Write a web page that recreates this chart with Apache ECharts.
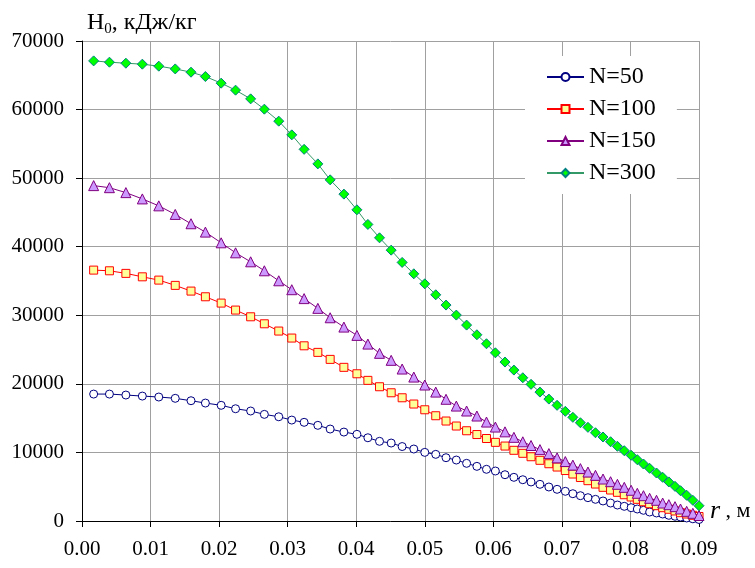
<!DOCTYPE html>
<html>
<head>
<meta charset="utf-8">
<script src="https://cdn.jsdelivr.net/npm/echarts@6/dist/echarts.min.js"></script>
<style>html,body{margin:0;padding:0;background:#fff}#c{width:755px;height:568px}</style>
</head>
<body>
<div id="c"></div>
<script>
// radius, m
const r = [0.0017,0.0040,0.0064,0.0088,0.0112,0.0136,0.0159,0.0180,0.0203,0.0224,
  0.0246,0.0266,0.0287,0.0306,0.0324,0.0344,0.0362,0.0382,0.0401,0.0417,
  0.0434,0.0451,0.0467,0.0484,0.0500,0.0516,0.0531,0.0546,0.0561,0.0576,
  0.0590,0.0603,0.0617,0.0630,0.0643,0.0655,0.0668,0.0681,0.0693,0.0705,
  0.0716,0.0727,0.0738,0.0749,0.0760,0.0771,0.0781,0.0791,0.0801,0.0810,
  0.0819,0.0828,0.0838,0.0847,0.0856,0.0865,0.0873,0.0882,0.0891,0.0900];
const H50 = [18510,18510,18370,18220,18080,17890,17540,17200,16870,16370,
  16040,15550,15200,14720,14390,13950,13410,12970,12640,12140,
  11620,11370,10860,10500,10010,9720,9230,8890,8410,7970,
  7540,7290,6750,6370,6020,5690,5350,4960,4620,4330,
  3980,3690,3400,3160,2920,2620,2330,2140,1940,1750,
  1560,1310,1170,1020,830,690,580,440,320,220];
const H100 = [36590,36490,36110,35610,35130,34360,33530,32700,31780,30760,
  29780,28760,27700,26680,25550,24590,23570,22410,21470,20510,
  19580,18700,17970,17060,16220,15350,14580,13850,13160,12610,
  12030,11470,10930,10310,9870,9370,8850,8350,7870,7360,
  6850,6340,5880,5390,4910,4520,4180,3830,3500,3160,
  2810,2520,2230,1940,1710,1460,1210,1020,830,660];
const H150 = [48910,48610,47890,46970,45960,44710,43350,42130,40570,39110,
  37800,36490,35030,33730,32430,31010,29640,28280,27070,25800,
  24450,23430,22160,20990,19830,18800,17750,16760,16040,15310,
  14430,13700,13000,12200,11550,11010,10410,9830,9210,8670,
  8150,7640,7140,6660,6120,5730,5350,4910,4480,4040,
  3690,3310,3020,2620,2380,2090,1750,1410,1120,800];
const H300 = [67100,66910,66760,66620,66330,65930,65450,64820,63850,62830,
  61560,60060,58310,56310,54200,52080,49750,47670,45380,43250,
  41300,39500,37710,36050,34590,32990,31490,30030,28570,27160,
  25850,24530,23180,22010,20890,19930,18800,17780,16870,15990,
  15120,14330,13660,12870,12250,11560,10890,10250,9580,8940,
  8310,7680,7000,6370,5700,5050,4420,3750,3020,2230];
const seriesNames = ['N=50','N=100','N=150','N=300'];
const xTicks = {min: 0, max: 0.09, step: 0.01};
const yTicks = {min: 0, max: 70000, step: 10000};

const FF = 'Liberation Serif';
const pair = (ys) => r.map((x, i) => [x, ys[i]]);

const chart = echarts.init(document.getElementById('c'), null, {renderer: 'canvas'});
chart.setOption({
  animation: false,
  backgroundColor: '#fff',
  textStyle: {fontFamily: FF},
  grid: {left: 82, right: 56, top: 41, bottom: 47},
  xAxis: {
    type: 'value', min: xTicks.min, max: xTicks.max, interval: xTicks.step,
    axisLine: {show: true, onZero: false, lineStyle: {color: '#000', width: 1}},
    axisTick: {show: true, length: 6, lineStyle: {color: '#000'}},
    axisLabel: {color: '#000', fontFamily: FF, fontSize: 21, margin: 18,
      formatter: v => v.toFixed(2)},
    splitLine: {show: true, lineStyle: {color: '#a0a0a0', width: 1}}
  },
  yAxis: {
    type: 'value', min: yTicks.min, max: yTicks.max, interval: yTicks.step,
    axisLine: {show: true, lineStyle: {color: '#000', width: 1}},
    axisTick: {show: true, length: 6, lineStyle: {color: '#000'}},
    axisLabel: {color: '#000', fontFamily: FF, fontSize: 21, margin: 18,
      formatter: v => String(v)},
    splitLine: {show: true, lineStyle: {color: '#a0a0a0', width: 1}}
  },
  legend: {
    orient: 'vertical', left: 525, top: 56,
    padding: [9, 21, 9, 21],
    backgroundColor: '#fff',
    itemWidth: 37, itemHeight: 10, itemGap: 8,
    textStyle: {color: '#000', fontFamily: FF, fontSize: 24, lineHeight: 23},
    data: seriesNames
  },
  graphic: [
    {type: 'text', left: 87, top: 11, z: 10,
      style: {text: '{a|H}{b|0}{a|, кДж/кг}',
        rich: {
          a: {fontFamily: FF, fontSize: 24, lineHeight: 28, fill: '#000'},
          b: {fontFamily: FF, fontSize: 15, lineHeight: 20, verticalAlign: 'bottom', fill: '#000'}
        }}},
    {type: 'text', left: 710, top: 498, z: 10,
      style: {text: '{i|r}{n| , м}',
        rich: {
          i: {fontFamily: FF, fontSize: 26, fontStyle: 'italic', lineHeight: 28, fill: '#000'},
          n: {fontFamily: FF, fontSize: 22, lineHeight: 28, fill: '#000'}
        }}}
  ],
  series: [
    {name: seriesNames[0], type: 'line', data: pair(H50), symbol: 'circle', symbolSize: 8,
      lineStyle: {color: '#000080', width: 1},
      itemStyle: {color: '#ffffff', borderColor: '#000080', borderWidth: 1}, z: 2},
    {name: seriesNames[1], type: 'line', data: pair(H100), symbol: 'rect', symbolSize: 8,
      lineStyle: {color: '#ff0000', width: 1},
      itemStyle: {color: '#ffff99', borderColor: '#ff0000', borderWidth: 1}, z: 3},
    {name: seriesNames[2], type: 'line', data: pair(H150), symbol: 'triangle', symbolSize: 10,
      lineStyle: {color: '#800080', width: 1},
      itemStyle: {color: '#cc99ff', borderColor: '#800080', borderWidth: 1}, z: 4},
    {name: seriesNames[3], type: 'line', data: pair(H300), symbol: 'diamond', symbolSize: 10,
      lineStyle: {color: '#339966', width: 1},
      itemStyle: {color: '#00ff00', borderColor: '#008080', borderWidth: 1}, z: 5}
  ]
});
</script>
</body>
</html>
